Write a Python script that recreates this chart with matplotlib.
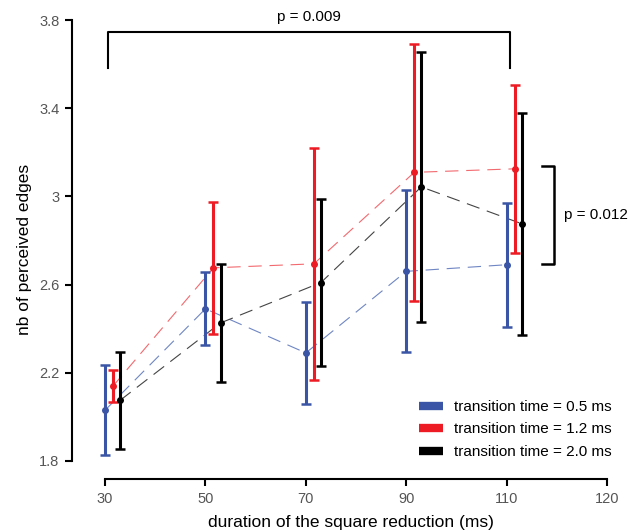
import numpy as np
import matplotlib.pyplot as plt
from matplotlib.lines import Line2D

plt.rcParams['font.family'] = ['Liberation Sans', 'DejaVu Sans']

# Durations (categorical positions, last one shown as 120)
tick_labels = ['30', '50', '70', '90', '110', '120']
durations = ['30', '50', '70', '90', '110']

series_names = ['transition time = 0.5 ms', 'transition time = 1.2 ms',
                'transition time = 2.0 ms']
mean_05 = [2.03, 2.49, 2.29, 2.66, 2.69]
err_05 = [0.205, 0.165, 0.23, 0.367, 0.282]
mean_12 = [2.14, 2.676, 2.694, 3.109, 3.125]
err_12 = [0.074, 0.30, 0.526, 0.582, 0.38]
mean_20 = [2.075, 2.426, 2.609, 3.043, 2.876]
err_20 = [0.22, 0.268, 0.38, 0.612, 0.503]

colors = ['#3a55a5', '#ed1c24', '#000000']
line_colors = ['#6f86c4', '#f26a6f', '#444444']
offsets = [0.0, 0.08, 0.15]

fig = plt.figure(figsize=(6.38, 5.31), dpi=100)
ax = fig.add_axes([0.1129, 0.0979, 0.8746, 0.8644])

x = np.arange(len(durations))
means = [mean_05, mean_12, mean_20]
errs = [err_05, err_12, err_20]
for m, e, c, lc, off in zip(means, errs, colors, line_colors, offsets):
    ax.plot(x + off, m, color=lc, lw=0.8, dashes=(12, 7), zorder=1)
    ax.errorbar(x + off, m, yerr=e, fmt='o', color=c, ms=4,
                elinewidth=2.2, capsize=3.8, capthick=1.8, zorder=2)

# significance brackets
ax.plot([0.03, 0.03, 4.03, 4.03], [3.583, 3.744, 3.744, 3.583],
        color='black', lw=1.5, clip_on=False)
ax.text(2.03, 3.814, 'p = 0.009', ha='center', va='center', fontsize=11,
        clip_on=False)
ax.plot([4.35, 4.47, 4.47, 4.35], [3.138, 3.138, 2.694, 2.694],
        color='black', lw=1.8, clip_on=False)
ax.text(4.57, 2.916, 'p = 0.012', ha='left', va='center', fontsize=11)

ax.set_xlim(-0.329, 5.229)
ax.set_ylim(1.718, 3.8)
ax.spines['top'].set_visible(False)
ax.spines['right'].set_visible(False)
ax.spines['left'].set_bounds(1.8, 3.8)
ax.spines['bottom'].set_bounds(0, 5)
ax.spines['left'].set_linewidth(1.5)
ax.spines['bottom'].set_linewidth(1.5)
ax.set_xticks(np.arange(len(tick_labels)))
ax.set_xticklabels(tick_labels)
ax.set_yticks([1.8, 2.2, 2.6, 3.0, 3.4, 3.8])
ax.set_yticklabels(['1.8', '2.2', '2.6', '3', '3.4', '3.8'])
ax.tick_params(direction='out', length=5, width=1.5, labelsize=10.5,
               labelcolor='#555555', pad=4)

ax.set_ylabel('nb of perceived edges', fontsize=12.5, labelpad=5)
ax.set_xlabel('duration of the square reduction (ms)', fontsize=12.5,
              labelpad=7)

handles = [Line2D([], [], color=c, lw=6, solid_capstyle='butt')
           for c in colors]
ax.legend(handles, series_names, loc='upper left',
          bbox_to_anchor=(0.597, 0.202), frameon=False, fontsize=11,
          handlelength=1.6, handletextpad=0.7, labelspacing=0.55)

fig.savefig('out.png', dpi=100)
